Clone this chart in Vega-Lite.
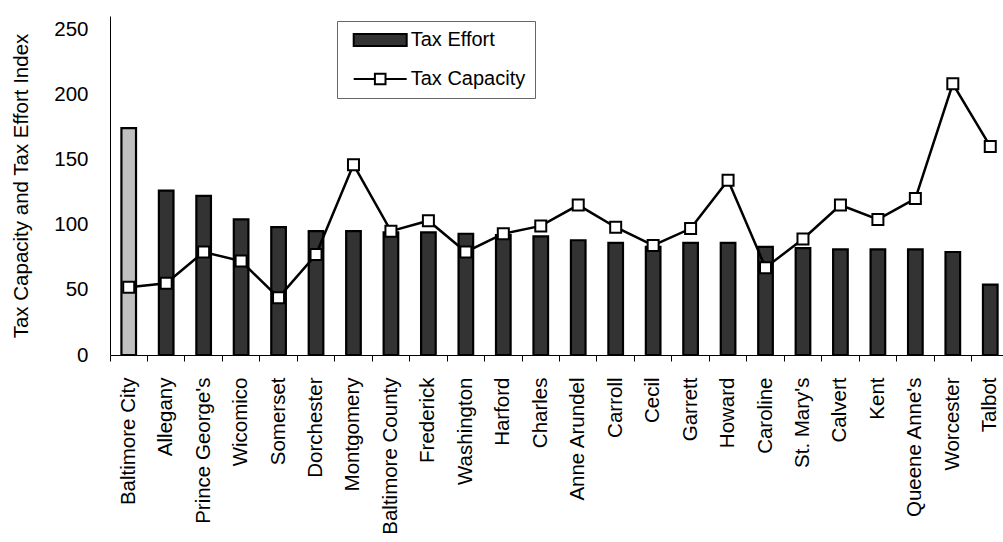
{
  "$schema": "https://vega.github.io/schema/vega-lite/v6.json",
  "width": 893,
  "height": 339,
  "autosize": {"type": "none"},
  "padding": {"left": 110, "top": 16, "right": 0, "bottom": 187},
  "background": "white",
  "config": {
    "view": {"stroke": null},
    "font": "Liberation Sans",
    "axis": {
      "labelFont": "Liberation Sans",
      "titleFont": "Liberation Sans",
      "labelColor": "black",
      "titleColor": "black",
      "domainColor": "black",
      "domainWidth": 1,
      "tickColor": "black",
      "grid": false
    },
    "axisY": {
      "labelFontSize": 20.5,
      "titleFontSize": 20.5,
      "titleFontWeight": "normal",
      "ticks": false,
      "labelPadding": 22,
      "titlePadding": 22
    },
    "legend": {
      "orient": "none",
      "legendX": 227,
      "legendY": 5,
      "padding": 9,
      "symbolOffset": 6.7,
      "labelOffset": 3,
      "clipHeight": 20,
      "rowPadding": 19,
      "symbolSize": 2809,
      "symbolStrokeColor": "black",
      "symbolStrokeWidth": 2,
      "strokeColor": "#666666",
      "fillColor": "white",
      "labelFont": "Liberation Sans",
      "labelFontSize": 20,
      "labelColor": "black",
      "labelLimit": 300
    }
  },
  "data": {
    "values": [
      {"county": "Baltimore City", "effort": 174, "capacity": 52},
      {"county": "Allegany", "effort": 126, "capacity": 55},
      {"county": "Prince George's", "effort": 122, "capacity": 79},
      {"county": "Wicomico", "effort": 104, "capacity": 72},
      {"county": "Somerset", "effort": 98, "capacity": 44},
      {"county": "Dorchester", "effort": 95, "capacity": 77},
      {"county": "Montgomery", "effort": 95, "capacity": 146},
      {"county": "Baltimore County", "effort": 94, "capacity": 95},
      {"county": "Frederick", "effort": 94, "capacity": 103},
      {"county": "Washington", "effort": 93, "capacity": 79},
      {"county": "Harford", "effort": 92, "capacity": 93},
      {"county": "Charles", "effort": 91, "capacity": 99},
      {"county": "Anne Arundel", "effort": 88, "capacity": 115},
      {"county": "Carroll", "effort": 86, "capacity": 98},
      {"county": "Cecil", "effort": 83, "capacity": 84},
      {"county": "Garrett", "effort": 86, "capacity": 97},
      {"county": "Howard", "effort": 86, "capacity": 134},
      {"county": "Caroline", "effort": 83, "capacity": 67},
      {"county": "St. Mary's", "effort": 82, "capacity": 89},
      {"county": "Calvert", "effort": 81, "capacity": 115},
      {"county": "Kent", "effort": 81, "capacity": 104},
      {"county": "Queene Anne's", "effort": 81, "capacity": 120},
      {"county": "Worcester", "effort": 79, "capacity": 208},
      {"county": "Talbot", "effort": 54, "capacity": 160}
    ]
  },
  "layer": [
    {
      "mark": {"type": "bar", "width": {"band": 0.39}, "stroke": "black", "strokeWidth": 2.2},
      "encoding": {
        "x": {
          "field": "county",
          "type": "nominal",
          "sort": null,
          "scale": {"range": [0, 899], "paddingInner": 0, "paddingOuter": 0},
          "axis": {
            "title": null,
            "orient": "bottom",
            "labelAngle": -90,
            "labelFontSize": 20.5,
            "labelPadding": 22,
            "ticks": false,
            "labelLimit": 250
          }
        },
        "y": {
          "field": "effort",
          "type": "quantitative",
          "scale": {"domain": [0, 250]},
          "axis": {"title": "Tax Capacity and Tax Effort Index", "values": [0, 50, 100, 150, 200, 250]}
        },
        "fill": {
          "condition": {"test": "datum.county === 'Baltimore City'", "value": "#c0c0c0"},
          "value": "#333333"
        }
      }
    },
    {
      "mark": {
        "type": "line",
        "color": "black",
        "strokeWidth": 2.5,
        "point": {"shape": "square", "size": 121, "filled": true, "fill": "white", "stroke": "black", "strokeWidth": 2}
      },
      "encoding": {
        "x": {
          "field": "county",
          "type": "nominal",
          "sort": null,
          "axis": {
            "title": null,
            "orient": "bottom",
            "labels": false,
            "domain": false,
            "ticks": true,
            "tickSize": 6,
            "bandPosition": 0
          }
        },
        "y": {
          "field": "capacity",
          "type": "quantitative",
          "axis": {"title": "Tax Capacity and Tax Effort Index", "values": [0, 50, 100, 150, 200, 250]}
        }
      }
    },
    {
      "transform": [{"filter": "false"}],
      "mark": {"type": "point", "filled": true, "size": 2809, "strokeWidth": 2, "opacity": 1},
      "encoding": {
        "shape": {
          "field": "series",
          "type": "nominal",
          "title": null,
          "scale": {
            "domain": ["Tax Effort", "Tax Capacity"],
            "range": ["M-1,-0.226H1V0.226H-1Z", "M-1,0H-0.2M0.2,0H1M-0.2,-0.2H0.2V0.2H-0.2Z"]
          }
        },
        "fill": {
          "field": "series",
          "type": "nominal",
          "title": null,
          "scale": {"domain": ["Tax Effort", "Tax Capacity"], "range": ["#333333", "white"]}
        },
        "stroke": {
          "field": "series",
          "type": "nominal",
          "title": null,
          "scale": {"domain": ["Tax Effort", "Tax Capacity"], "range": ["black", "black"]}
        }
      }
    }
  ],
  "resolve": {"axis": {"x": "independent"}}
}
